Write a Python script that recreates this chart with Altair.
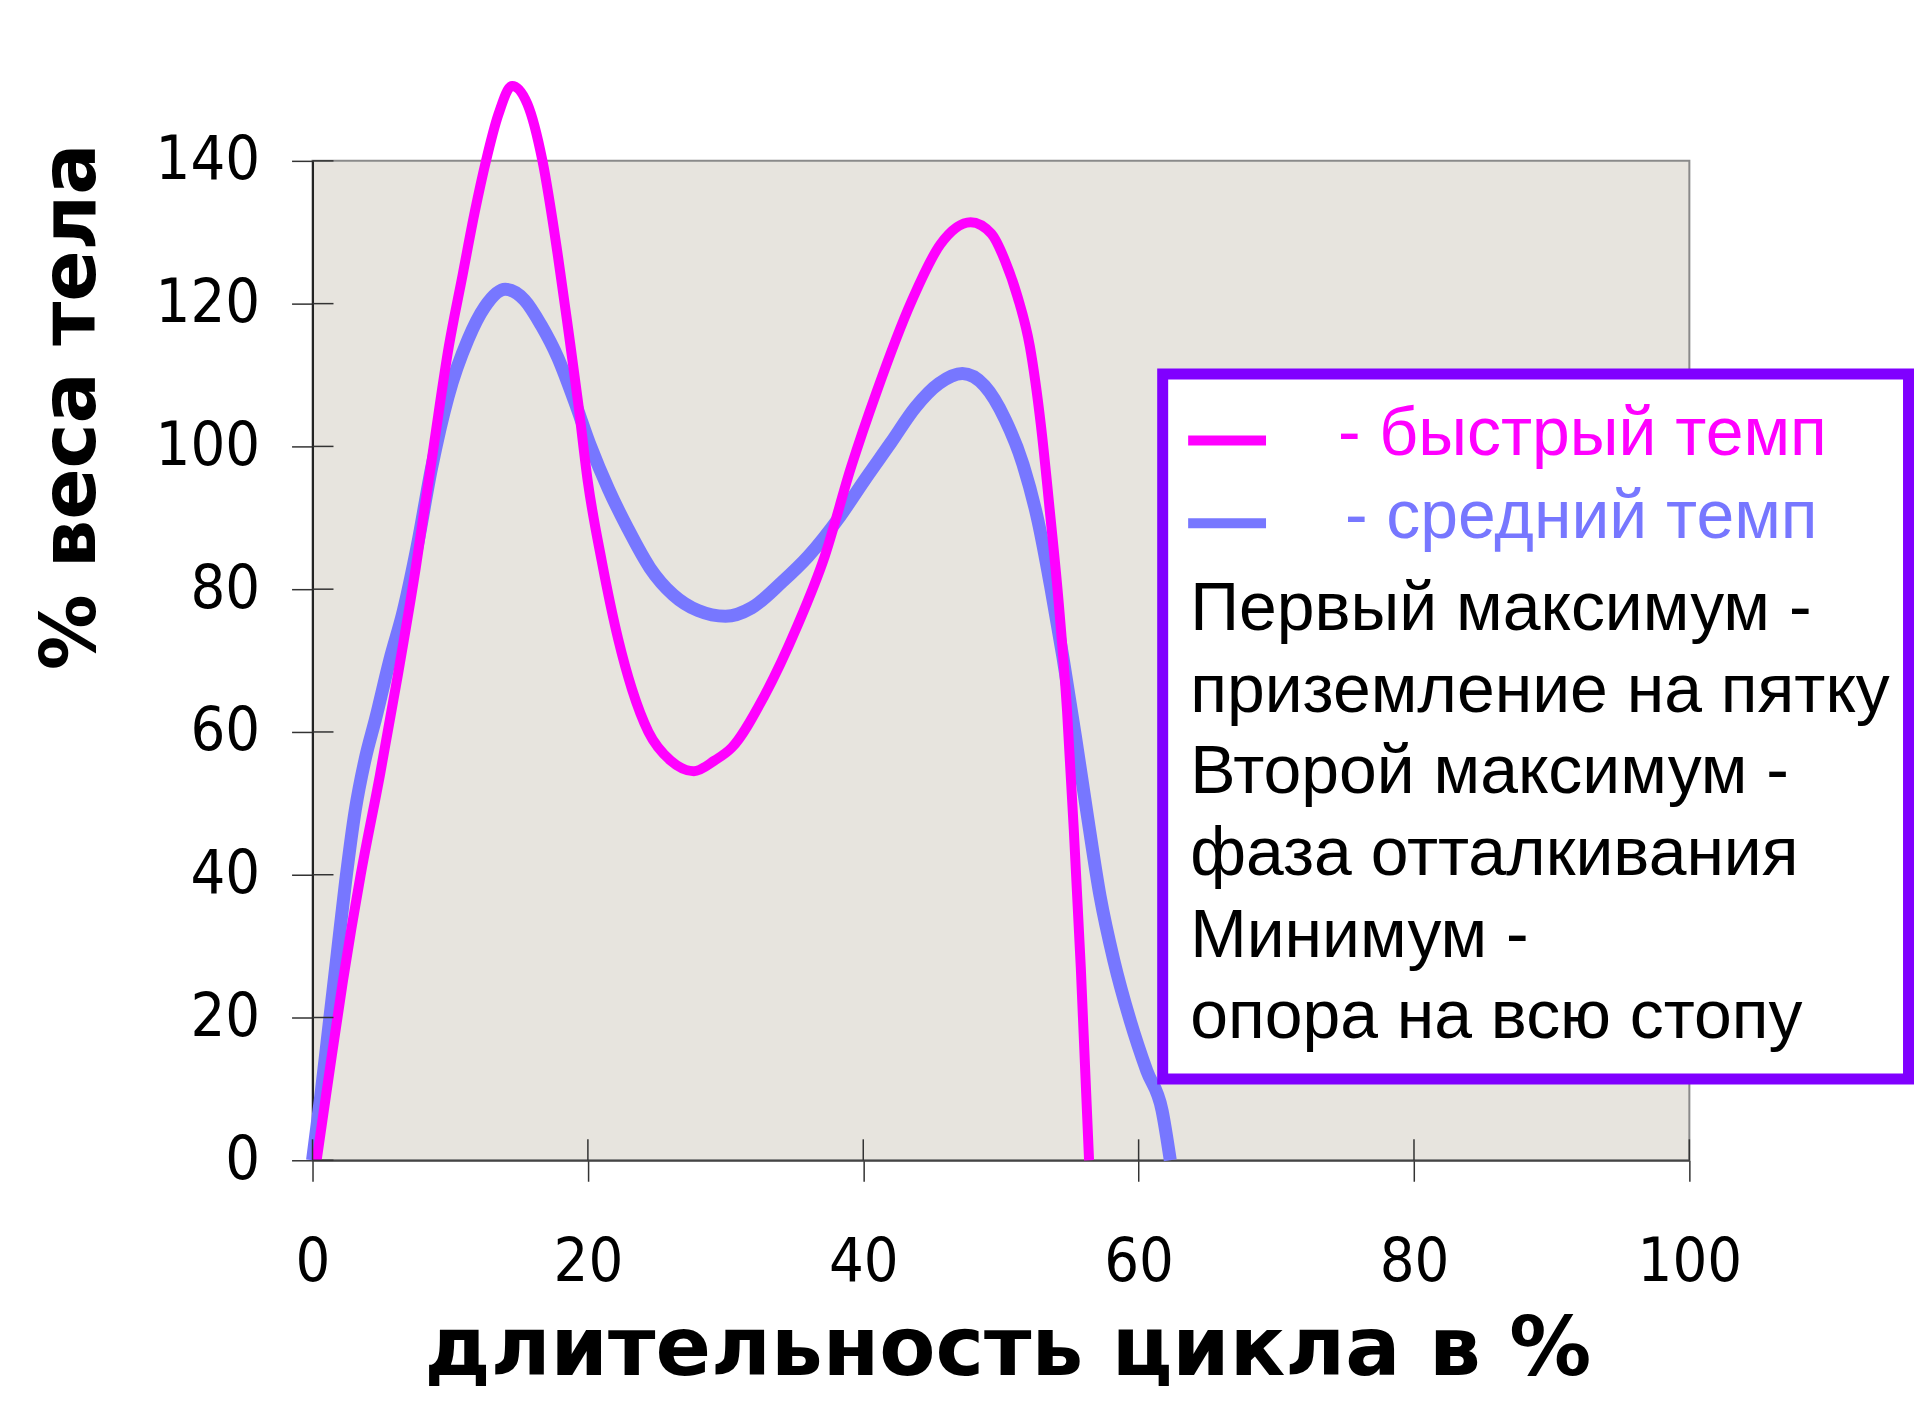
import altair as alt
import pandas as pd

# ---- data ----
fast_x = [0.3, 1.2, 2.2, 3.5, 4.9, 6.2, 7.5, 8.8, 9.9, 10.9, 11.8, 12.6, 13.5, 14.5, 15.6,
          16.7, 17.8, 18.6, 19.3, 20.0, 21.0, 22.2, 23.2, 24.4, 26.0, 27.7, 29.2, 30.45, 32.8,
          35.2, 37.2, 39.1, 41.0, 43.5, 45.6, 47.8, 49.3, 50.3, 51.2, 52.1, 52.9, 53.6, 54.2,
          54.8, 55.3, 55.8, 56.4]
fast_y = [0, 12, 25, 40, 54, 68, 83, 100, 114, 124, 133, 140, 146.5, 150.5, 148,
          140, 127, 116, 106, 95, 84, 73, 66, 60, 56, 54.5, 56, 57.8, 65,
          74.8, 84.6, 97, 107.8, 120.3, 128.3, 131.4, 129.8, 126, 121, 114, 103, 90, 78,
          63, 46, 27, 0]

medium_x = [0, 0.6, 1.2, 1.8, 2.4, 3.1, 3.8, 4.6, 5.6, 6.6, 7.6, 8.65, 9.85, 11.3, 12.5,
            14.0, 15.4, 16.6, 17.8, 19.0, 20.2, 21.5, 22.9, 24.5, 26.2, 28.0, 30.0, 31.9, 34.1,
            36.0, 38.2, 40.1, 42.0, 43.8, 45.5, 47.2, 48.8, 50.3, 51.6, 52.7, 53.6, 54.5, 55.4,
            56.3, 57.2, 58.2, 59.4, 60.6, 61.7, 62.3]
medium_y = [0, 9, 19, 29, 39, 49, 56, 62, 70, 77, 86, 97, 107, 115, 119.5,
            122, 120.5, 117, 112.5, 106.5, 100, 94, 88.5, 83, 79.2, 77, 76.2, 77.4, 81,
            84.6, 89.9, 95.3, 100.5, 105.5, 108.8, 110.2, 108.5, 103.8, 97.5, 89.5, 80.5, 70.5, 59.5,
            48, 37, 28, 19.5, 12.5, 7, 0]

x_ticks = [0, 20, 40, 60, 80, 100]
y_ticks = [0, 20, 40, 60, 80, 100, 120, 140]

series_labels = ["- быстрый темп", "- средний темп"]
note_lines = ["Первый максимум -", "приземление на пятку", "Второй максимум -",
              "фаза отталкивания", "Минимум -", "опора на всю стопу"]

PINK = "#FF00FF"
BLUE = "#7777FF"
PURPLE = "#8000FF"
W, H = 1379, 1001
TICK_FONT = "DejaVu Sans Condensed, Liberation Sans Narrow, DejaVu Sans"
TITLE_FONT = "DejaVu Sans"
NOTE_FONT = "Liberation Sans, Arial, sans-serif"

fast = pd.DataFrame({"x": fast_x, "y": fast_y})
medium = pd.DataFrame({"x": medium_x, "y": medium_y})

xscale = alt.Scale(domain=[0, 100], nice=False, zero=False)
yscale = alt.Scale(domain=[0, 140], nice=False, zero=False)

xaxis = alt.Axis(values=x_ticks, title="длительность цикла в %", grid=False,
                 tickSize=21, tickColor="#333333", tickWidth=1.5,
                 domainColor="#444444", domainWidth=2,
                 labelFont=TICK_FONT, labelFontSize=61, labelColor="black",
                 labelPadding=99, labelBaseline="alphabetic", labelFlush=False,
                 labelOverlap=False,
                 titleFont=TITLE_FONT, titleFontSize=82, titleFontWeight="bold",
                 titleColor="black", titleX=696, titleY=215, titleAlign="center",
                 titleBaseline="alphabetic")
yaxis = alt.Axis(values=y_ticks, title="% веса тела", grid=False,
                 tickSize=21, tickColor="#333333", tickWidth=1.5,
                 domainColor="#222222", domainWidth=2,
                 labelFont=TICK_FONT, labelFontSize=61, labelColor="black",
                 labelPadding=32, labelOverlap=False, labelFlush=False,
                 titleFont=TITLE_FONT, titleFontSize=76, titleFontWeight="bold",
                 titleColor="black", titleX=-218, titleY=246, titleAngle=270,
                 titleAlign="center", titleBaseline="alphabetic")

base_x = alt.X("x:Q", scale=xscale, axis=xaxis)
base_y = alt.Y("y:Q", scale=yscale, axis=yaxis)

medium_line = alt.Chart(medium).mark_line(color=BLUE, strokeWidth=13, interpolate="monotone").encode(
    x=base_x, y=base_y, order="x:Q")
fast_line = alt.Chart(fast).mark_line(color=PINK, strokeWidth=10, interpolate="monotone").encode(
    x="x:Q", y="y:Q", order="x:Q")

# inward halves of the crossing tick marks
xt = pd.DataFrame({"x": x_ticks})
yt = pd.DataFrame({"y": y_ticks})
x_in = alt.Chart(xt).mark_rule(color="#333333", strokeWidth=1.5).encode(
    x="x:Q", y=alt.value(H - 21), y2=alt.value(H))
y_in = alt.Chart(yt).mark_rule(color="#333333", strokeWidth=1.5).encode(
    y="y:Q", x=alt.value(0), x2=alt.value(21))

one = pd.DataFrame({"a": [0]})
box = alt.Chart(one).mark_rect(fill="white", stroke=PURPLE, strokeWidth=11).encode(
    x=alt.value(851.5), x2=alt.value(1598.5), y=alt.value(213.5), y2=alt.value(919.5))
sw_fast = alt.Chart(one).mark_rule(color=PINK, strokeWidth=10).encode(
    x=alt.value(877), x2=alt.value(955), y=alt.value(280))
sw_med = alt.Chart(one).mark_rule(color=BLUE, strokeWidth=10).encode(
    x=alt.value(877), x2=alt.value(955), y=alt.value(363))

layers = [medium_line, fast_line, x_in, y_in, box, sw_fast, sw_med]
label_pos = [(1027, 295, PINK), (1034, 378, BLUE)]
for txt, (px, py, col) in zip(series_labels, label_pos):
    layers.append(alt.Chart(one).mark_text(text=txt, font=NOTE_FONT, fontSize=68, color=col,
                                           align="left", baseline="alphabetic").encode(
        x=alt.value(px), y=alt.value(py)))
for i, txt in enumerate(note_lines):
    layers.append(alt.Chart(one).mark_text(text=txt, font=NOTE_FONT, fontSize=68, color="black",
                                           align="left", baseline="alphabetic").encode(
        x=alt.value(879), y=alt.value(470 + 81.8 * i)))

chart = alt.layer(*layers).properties(
    width=W, height=H,
    autosize=alt.AutoSizeParams(type="none"),
    padding={"left": 305, "top": 152, "right": 228, "bottom": 240},
    background="white",
).configure_view(fill="#E7E4DE", stroke="#8A8A8A", strokeWidth=2)

chart.save("out.html", embed_options={"renderer": "svg", "actions": False})
